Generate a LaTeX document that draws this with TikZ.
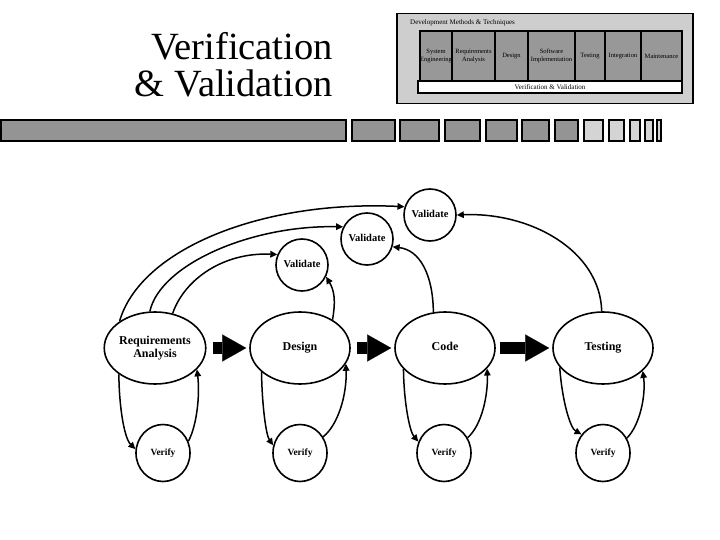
\documentclass[tikz,border=0pt]{standalone}
\usepackage{fontspec}
\setmainfont{Liberation Serif}
\usetikzlibrary{arrows.meta,shapes.geometric}
\definecolor{boxgray}{RGB}{206,206,206}
\definecolor{colgray}{RGB}{152,152,152}
\definecolor{bargray}{RGB}{148,148,148}
\definecolor{barlight}{RGB}{212,212,212}
\begin{document}
\begin{tikzpicture}[x=1pt,y=-1pt,
  stage/.style={draw, ellipse, line width=1.6pt, minimum width=100pt, minimum height=72pt, inner sep=0pt, align=center, font=\fontsize{12}{13.5}\selectfont\bfseries},
  oneline/.style={text height=8.5pt, text depth=2.7pt},
  verif/.style={draw, ellipse, line width=1.6pt, minimum width=54pt, minimum height=57pt, inner sep=0pt, text height=6.5pt, text depth=2.2pt, font=\fontsize{9.5}{10}\selectfont\bfseries},
  valid/.style={draw, circle, line width=1.6pt, minimum size=52pt, inner sep=0pt, text height=7.3pt, text depth=2.4pt, font=\fontsize{10.5}{11}\selectfont\bfseries},
  link/.style={line width=1.5pt, -{Triangle[length=7pt,width=6.5pt]}},
  bigarrow/.style={line width=12pt, -{Triangle[length=24pt,width=27pt,line width=0.1pt]}},
  col/.style={draw, line width=1.3pt, fill=colgray, inner sep=0pt, minimum height=50pt, align=center, font=\fontsize{6.5}{7.5}\selectfont},
  bar/.style={draw, line width=1.5pt, fill=bargray},
  lbar/.style={draw, line width=1.5pt, fill=barlight},
  title/.style={anchor=base east, inner sep=0pt, font=\fontsize{38.5}{40}\selectfont}
]
\useasboundingbox (0,0) rectangle (720,540);

% title
\node[title] (t1) at (333,60) {Verification};
\node[title] (t2) at (333,97) {\& Validation};

% development box
\node[draw, line width=1.6pt, fill=boxgray, minimum width=296pt, minimum height=90pt, inner sep=0pt] (devbox) at (545,58.5) {};
\node[anchor=base west, inner sep=0pt, font=\fontsize{7}{8}\selectfont] (devtitle) at (410,25) {Development Methods \& Techniques};
\node[col, minimum width=32pt] (c1) at (436,56) {System\\Engineering};
\node[col, minimum width=43pt] (c2) at (473.5,56) {Requirements\\Analysis};
\node[col, minimum width=33pt] (c3) at (511.5,56) {Design};
\node[col, minimum width=47pt] (c4) at (551.5,56) {Software\\Implementation};
\node[col, minimum width=30pt] (c5) at (590,56) {Testing};
\node[col, minimum width=36pt] (c6) at (623,56) {Integration};
\node[col, minimum width=41pt] (c7) at (661.5,56) {Maintenance};
\node[draw, line width=1.3pt, fill=white, minimum width=264pt, minimum height=12pt, inner sep=0pt, font=\fontsize{7}{8}\selectfont] (vvbar) at (550,87) {Verification \& Validation};

% progress bars
\draw[bar] (1,120) rectangle (346,141);
\draw[bar] (352,120) rectangle (395,141);
\draw[bar] (400,120) rectangle (439,141);
\draw[bar] (445,120) rectangle (480,141);
\draw[bar] (486,120) rectangle (517,141);
\draw[bar] (522,120) rectangle (549,141);
\draw[bar] (555,120) rectangle (578,141);
\draw[lbar] (584,120) rectangle (603,141);
\draw[lbar] (609,120) rectangle (624,141);
\draw[lbar] (630,120) rectangle (640,141);
\draw[lbar] (645,120) rectangle (653,141);
\draw[lbar] (657,120) rectangle (661,141);

% stages
\node[stage] (ra) at (155,348) {Requirements\\Analysis};
\node[stage, oneline] (de) at (300,348) {Design};
\node[stage, oneline] (co) at (445,348) {Code};
\node[stage, oneline] (te) at (603,348) {Testing};

\node[verif] (vra) at (163,453) {Verify};
\node[verif] (vde) at (300,453) {Verify};
\node[verif] (vco) at (444,453) {Verify};
\node[verif] (vte) at (603,453) {Verify};

\node[valid] (v1) at (430,215) {Validate};
\node[valid] (v2) at (367,239) {Validate};
\node[valid] (v3) at (302,265) {Validate};

% big arrows
\draw[bigarrow, shorten <=6pt, shorten >=3pt] (ra) -- (de);
\draw[bigarrow, shorten <=6pt, shorten >=3pt] (de) -- (co);
\draw[bigarrow, shorten <=4pt, shorten >=3pt] (co) -- (te);

% verify loops
\draw[link] (ra.216) .. controls (119,405) and (124,438) .. (vra.172);
\draw[link] (vra.25) .. controls (197,425) and (200,395) .. (ra.333);
\draw[link] (de.212) .. controls (262,405) and (266,435) .. (vde.164);
\draw[link] (vde.35) .. controls (338,425) and (347,395) .. (de.341);
\draw[link] (co.207) .. controls (404,405) and (410,432) .. (vco.156);
\draw[link] (vco.33) .. controls (482,425) and (488,395) .. (co.334);
\draw[link] (te.204) .. controls (562,400) and (570,428) .. (vte.139);
\draw[link] (vte.32) .. controls (640,425) and (646,395) .. (te.330);

% validate links
\draw[link] (ra.143) .. controls (140,250) and (260,200) .. (v1.162);
\draw[link] (ra.98) .. controls (160,265) and (250,225) .. (v2.153);
\draw[link] (ra.63) .. controls (185,278) and (225,252) .. (v3.157);
\draw[link] (de.41) .. controls (336,300) and (334,290) .. (v3.334);
\draw[link] (co.108) .. controls (433,275) and (420,250) .. (v2.343);
\draw[link] (te.92) .. controls (600,250) and (530,212) .. (v1.0);
\end{tikzpicture}
\end{document}
